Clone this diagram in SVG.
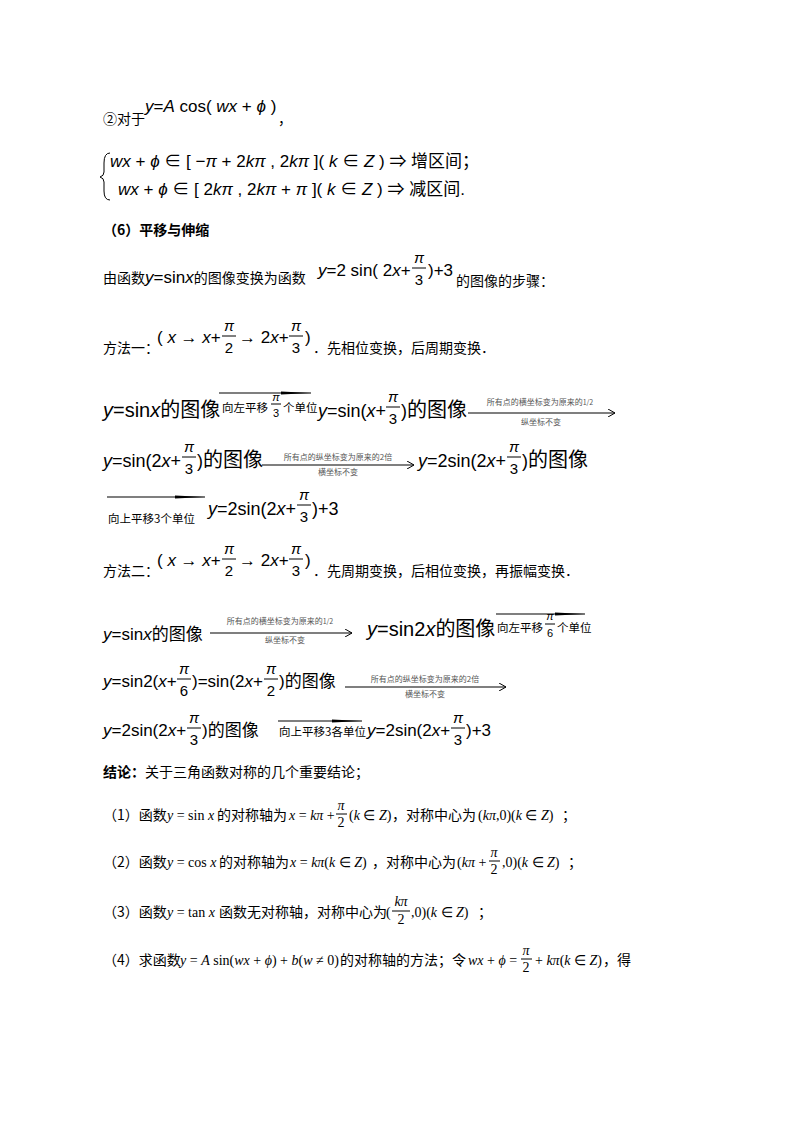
<svg xmlns="http://www.w3.org/2000/svg" width="800" height="1132" viewBox="0 0 800 1132">
<style>
.t{font-family:"Noto Sans CJK SC",sans-serif;font-size:14px;fill:#000}
.b{font-weight:bold}
.m{font-family:"Liberation Sans","Noto Sans CJK SC",sans-serif;font-size:17px;fill:#000}
.M{font-family:"Liberation Sans","Noto Sans CJK SC",sans-serif;font-size:18px;fill:#000}
.C{font-size:20px}
.f{font-family:"Liberation Sans",sans-serif;font-size:15px;fill:#000;text-anchor:middle}
.i{font-style:italic}
.s{font-family:"Noto Sans CJK SC",sans-serif;font-size:8px;fill:#555;text-anchor:middle}
.l{font-family:"Noto Sans CJK SC",sans-serif;font-size:11.5px;fill:#000}
.r{font-family:"Liberation Serif",serif;font-size:14px;fill:#000}
.fl{stroke:#000;stroke-width:1}
.ar{stroke:#000;stroke-width:1.2;fill:none}
</style>
<defs>
<marker id="a" markerWidth="8" markerHeight="8" refX="7" refY="4" orient="auto" markerUnits="userSpaceOnUse"><path d="M0,0 L7,4 L0,8" fill="none" stroke="#000"/></marker>
<marker id="h" markerWidth="30" markerHeight="6" refX="30" refY="3" orient="auto" markerUnits="userSpaceOnUse"><path d="M0,1.5 L30,3 L0,4.5 Z" fill="#000"/></marker>
</defs>

<g id="intro">
<text class="t" x="103" y="124">②对于</text>
<text class="m" x="145" y="112"><tspan class="i">y</tspan>=<tspan class="i">A</tspan> cos( <tspan class="i">wx</tspan> + <tspan class="i">ϕ</tspan> )</text>
<text class="t" x="278" y="124">，</text>
<path d="M110,153 Q104,153 104,163 L104,172 Q104,176 100,177 Q104,178 104,182 L104,191 Q104,200 110,200" fill="none" stroke="#000"/>
<text class="m" x="110" y="167"><tspan class="i">wx</tspan> + <tspan class="i">ϕ</tspan> ∈ [ −<tspan class="i">π</tspan> + 2<tspan class="i">kπ</tspan> , 2<tspan class="i">kπ</tspan> ]( <tspan class="i">k</tspan> ∈ <tspan class="i">Z</tspan> ) ⇒ 增区间；</text>
<text class="m" x="118" y="195"><tspan class="i">wx</tspan> + <tspan class="i">ϕ</tspan> ∈ [ 2<tspan class="i">kπ</tspan> , 2<tspan class="i">kπ</tspan> + <tspan class="i">π</tspan> ]( <tspan class="i">k</tspan> ∈ <tspan class="i">Z</tspan> ) ⇒ 减区间.</text>
<text class="t b" x="103" y="235">（6）平移与伸缩</text>
<text class="t" x="103" y="283">由函数<tspan class="m"><tspan class="i">y</tspan>=sin<tspan class="i">x</tspan></tspan>的图像变换为函数</text>
<text class="m" x="318" y="276"><tspan class="i">y</tspan>=2 sin( 2<tspan class="i">x</tspan>+</text>
<text class="f i" x="419" y="263">π</text><line class="fl" x1="412" y1="268" x2="426" y2="268"/><text class="f" x="419" y="285">3</text>
<text class="m" x="428" y="276">)+3</text>
<text class="t" x="456" y="286">的图像的步骤：</text>
</g>

<g id="method1">
<text class="t" x="103" y="353">方法一：</text>
<text class="m" x="157" y="343">( <tspan class="i">x</tspan> → <tspan class="i">x</tspan>+</text>
<text class="f i" x="229" y="331">π</text><line class="fl" x1="222" y1="336" x2="236" y2="336"/><text class="f" x="229" y="353">2</text>
<text class="m" x="239" y="343">→ 2<tspan class="i">x</tspan>+</text>
<text class="f i" x="296" y="331">π</text><line class="fl" x1="289" y1="336" x2="303" y2="336"/><text class="f" x="296" y="353">3</text>
<text class="m" x="305" y="343">)</text>
<text class="t" x="313" y="353">．先相位变换，后周期变换．</text>
</g>

<g id="m1-row1">
<text class="M" x="103" y="417"><tspan class="i C">y</tspan><tspan class="C">=sin</tspan><tspan class="i C">x</tspan><tspan class="C">的图像</tspan></text>
<text class="M" x="318" y="417"><tspan class="i">y</tspan>=sin(<tspan class="i">x</tspan>+</text>
<text class="f i" x="393" y="402">π</text><line class="fl" x1="386" y1="407" x2="400" y2="407"/><text class="f" x="393" y="424">3</text>
<text class="M" x="401" y="417">)<tspan class="C">的图像</tspan></text>
</g>
<g id="m1-row2">
<text class="M" x="103" y="467"><tspan class="i">y</tspan>=sin(2<tspan class="i">x</tspan>+</text>
<text class="f i" x="189" y="452">π</text><line class="fl" x1="182" y1="457" x2="196" y2="457"/><text class="f" x="189" y="474">3</text>
<text class="M" x="197" y="467">)<tspan class="C">的图像</tspan></text>
<text class="M" x="418" y="467"><tspan class="i">y</tspan>=2sin(2<tspan class="i">x</tspan>+</text>
<text class="f i" x="514" y="452">π</text><line class="fl" x1="507" y1="457" x2="521" y2="457"/><text class="f" x="514" y="474">3</text>
<text class="M" x="522" y="467">)<tspan class="C">的图像</tspan></text>
</g>
<g id="m1-row3">
<text class="M" x="208" y="515"><tspan class="i">y</tspan>=2sin(2<tspan class="i">x</tspan>+</text>
<text class="f i" x="304" y="500">π</text><line class="fl" x1="297" y1="505" x2="311" y2="505"/><text class="f" x="304" y="522">3</text>
<text class="M" x="312" y="515">)+3</text>
</g>

<g id="method2">
<text class="t" x="103" y="576">方法二：</text>
<text class="m" x="157" y="566">( <tspan class="i">x</tspan> → <tspan class="i">x</tspan>+</text>
<text class="f i" x="229" y="554">π</text><line class="fl" x1="222" y1="559" x2="236" y2="559"/><text class="f" x="229" y="576">2</text>
<text class="m" x="239" y="566">→ 2<tspan class="i">x</tspan>+</text>
<text class="f i" x="296" y="554">π</text><line class="fl" x1="289" y1="559" x2="303" y2="559"/><text class="f" x="296" y="576">3</text>
<text class="m" x="305" y="566">)</text>
<text class="t" x="313" y="576">．先周期变换，后相位变换，再振幅变换．</text>
</g>

<g id="m2-row1">
<text class="m" x="103" y="640"><tspan class="i">y</tspan>=sin<tspan class="i">x</tspan>的图像</text>
<text class="M C" x="367" y="636"><tspan class="i">y</tspan>=sin2<tspan class="i">x</tspan>的图像</text>
</g>
<g id="m2-row2">
<text class="m" x="103" y="687"><tspan class="i">y</tspan>=sin2(<tspan class="i">x</tspan>+</text>
<text class="f i" x="184" y="674">π</text><line class="fl" x1="177" y1="679" x2="191" y2="679"/><text class="f" x="184" y="696">6</text>
<text class="m" x="192" y="687">)=sin(2<tspan class="i">x</tspan>+</text>
<text class="f i" x="271" y="674">π</text><line class="fl" x1="264" y1="679" x2="278" y2="679"/><text class="f" x="271" y="696">2</text>
<text class="m" x="279" y="687">)的图像</text>
</g>
<g id="m2-row3">
<text class="m" x="103" y="736"><tspan class="i">y</tspan>=2sin(2<tspan class="i">x</tspan>+</text>
<text class="f i" x="194" y="723">π</text><line class="fl" x1="187" y1="728" x2="201" y2="728"/><text class="f" x="194" y="745">3</text>
<text class="m" x="202" y="736">)的图像</text>
<text class="m" x="367" y="736"><tspan class="i">y</tspan>=2sin(2<tspan class="i">x</tspan>+</text>
<text class="f i" x="458" y="723">π</text><line class="fl" x1="451" y1="728" x2="465" y2="728"/><text class="f" x="458" y="745">3</text>
<text class="m" x="466" y="736">)+3</text>
</g>

<g id="connectors">
<line class="ar" x1="219" y1="393" x2="311" y2="393" marker-end="url(#h)"/>
<text class="l" x="222" y="412">向左平移</text>
<text class="f i" x="276" y="401" style="font-size:11px">π</text><line class="fl" x1="271" y1="404" x2="281" y2="404"/><text class="f" x="276" y="417" style="font-size:11px">3</text>
<text class="l" x="283" y="412">个单位</text>

<line class="ar" x1="468" y1="413" x2="615" y2="413" marker-end="url(#a)"/>
<text class="s" x="540" y="405">所有点的横坐标变为原来的<tspan style="font-size:7px">1/2</tspan></text>
<text class="s" x="541" y="425">纵坐标不变</text>

<line class="ar" x1="262" y1="465" x2="414" y2="465" marker-end="url(#a)"/>
<text class="s" x="338" y="460">所有点的纵坐标变为原来的2倍</text>
<text class="s" x="338" y="475">横坐标不变</text>

<line class="ar" x1="107" y1="497" x2="205" y2="497" marker-end="url(#h)"/>
<text class="l" x="108" y="523">向上平移3个单位</text>

<line class="ar" x1="210" y1="633" x2="352" y2="633" marker-end="url(#a)"/>
<text class="s" x="280" y="624">所有点的横坐标变为原来的<tspan style="font-size:7px">1/2</tspan></text>
<text class="s" x="285" y="643">纵坐标不变</text>

<line class="ar" x1="496" y1="614" x2="585" y2="614" marker-end="url(#h)"/>
<text class="l" x="497" y="632">向左平移</text>
<text class="f i" x="550" y="620" style="font-size:11px">π</text><line class="fl" x1="545" y1="624" x2="555" y2="624"/><text class="f" x="550" y="637" style="font-size:11px">6</text>
<text class="l" x="557" y="632">个单位</text>

<line class="ar" x1="345" y1="687" x2="506" y2="687" marker-end="url(#a)"/>
<text class="s" x="425" y="682">所有点的纵坐标变为原来的2倍</text>
<text class="s" x="425" y="697">横坐标不变</text>

<line class="ar" x1="278" y1="721" x2="362" y2="721" marker-end="url(#h)"/>
<text class="l" x="279" y="736">向上平移3各单位</text>
</g>

<g id="conclusion">
<text class="t" x="103" y="777"><tspan class="b">结论：</tspan>关于三角函数对称的几个重要结论；</text>
<text class="t" x="103" y="820">（1）函数</text>
<text class="r" x="167" y="820"><tspan class="i">y</tspan> = sin <tspan class="i">x</tspan></text>
<text class="t" x="217" y="820">的对称轴为</text>
<text class="r" x="289" y="820"><tspan class="i">x</tspan> = <tspan class="i">kπ</tspan> +</text>
<text class="r i" x="341" y="810" text-anchor="middle">π</text><line class="fl" x1="336" y1="814" x2="347" y2="814"/><text class="r" x="341" y="827" text-anchor="middle">2</text>
<text class="r" x="349" y="820">(<tspan class="i">k</tspan> ∈ <tspan class="i">Z</tspan>)</text>
<text class="t" x="392" y="820">，对称中心为</text>
<text class="r" x="478" y="820">(<tspan class="i">kπ</tspan>,0)(<tspan class="i">k</tspan> ∈ <tspan class="i">Z</tspan>)</text>
<text class="t" x="562" y="820">；</text>

<text class="t" x="103" y="867">（2）函数</text>
<text class="r" x="167" y="867"><tspan class="i">y</tspan> = cos <tspan class="i">x</tspan></text>
<text class="t" x="219" y="867">的对称轴为</text>
<text class="r" x="290" y="867"><tspan class="i">x</tspan> = <tspan class="i">kπ</tspan>(<tspan class="i">k</tspan> ∈ <tspan class="i">Z</tspan>)</text>
<text class="t" x="372" y="867">，对称中心为</text>
<text class="r" x="457" y="867">(<tspan class="i">kπ</tspan> +</text>
<text class="r i" x="494" y="857" text-anchor="middle">π</text><line class="fl" x1="489" y1="861" x2="500" y2="861"/><text class="r" x="494" y="874" text-anchor="middle">2</text>
<text class="r" x="502" y="867">,0)(<tspan class="i">k</tspan> ∈ <tspan class="i">Z</tspan>)</text>
<text class="t" x="568" y="867">；</text>

<text class="t" x="103" y="917">（3）函数</text>
<text class="r" x="167" y="917"><tspan class="i">y</tspan> = tan <tspan class="i">x</tspan></text>
<text class="t" x="219" y="917">函数无对称轴，对称中心为</text>
<text class="r" x="386" y="917">(</text>
<text class="r i" x="401" y="906" text-anchor="middle">kπ</text><line class="fl" x1="392" y1="911" x2="410" y2="911"/><text class="r" x="401" y="924" text-anchor="middle">2</text>
<text class="r" x="411" y="917">,0)(<tspan class="i">k</tspan> ∈ <tspan class="i">Z</tspan>)</text>
<text class="t" x="478" y="917">；</text>

<text class="t" x="103" y="965">（4）求函数</text>
<text class="r" x="180" y="965"><tspan class="i">y</tspan> = <tspan class="i">A</tspan> sin(<tspan class="i">wx</tspan> + <tspan class="i">ϕ</tspan>) + <tspan class="i">b</tspan>(<tspan class="i">w</tspan> ≠ 0)</text>
<text class="t" x="340" y="965">的对称轴的方法；令</text>
<text class="r" x="468" y="965"><tspan class="i">wx</tspan> + <tspan class="i">ϕ</tspan> =</text>
<text class="r i" x="526" y="955" text-anchor="middle">π</text><line class="fl" x1="521" y1="959" x2="532" y2="959"/><text class="r" x="526" y="972" text-anchor="middle">2</text>
<text class="r" x="535" y="965">+ <tspan class="i">kπ</tspan>(<tspan class="i">k</tspan> ∈ <tspan class="i">Z</tspan>)</text>
<text class="t" x="603" y="965">，得</text>
</g>
</svg>
